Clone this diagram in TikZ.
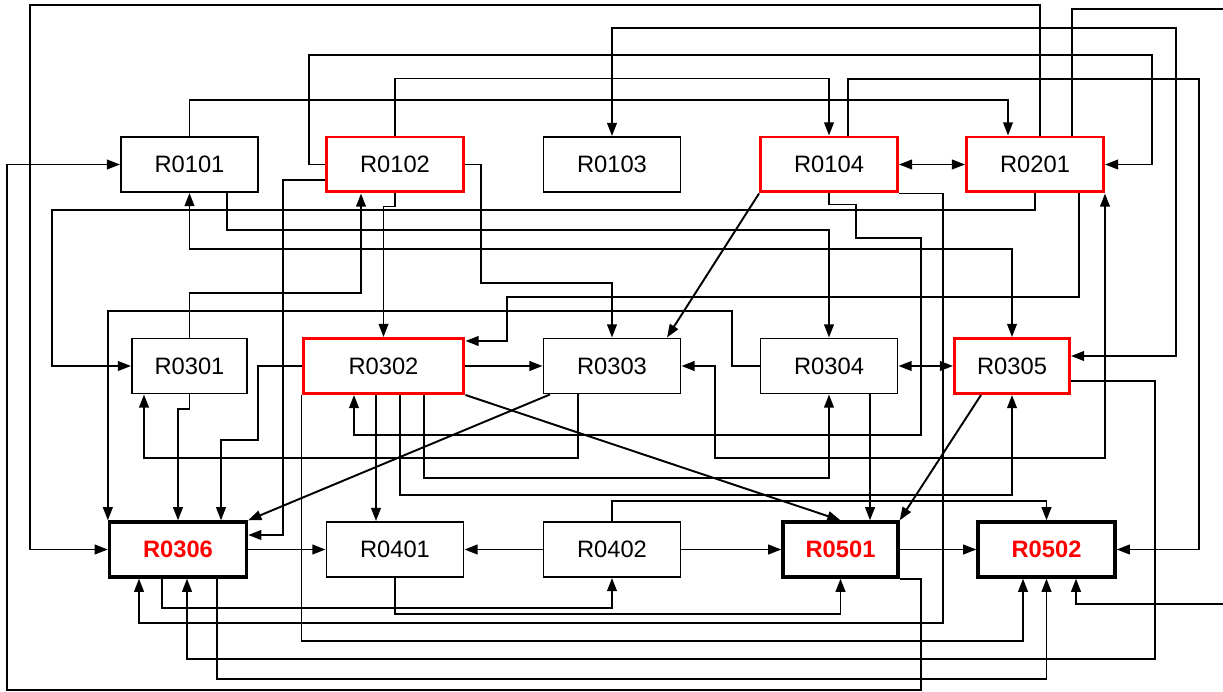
\documentclass[tikz,border=0pt]{standalone}
\usepackage{fontspec}
\setmainfont{Liberation Sans}
\usetikzlibrary{arrows.meta}

\tikzset{
    room/.style={draw, line width=1.1pt, fill=white, inner sep=0pt,
        minimum width=2.74cm, minimum height=1.1cm,
        font=\fontsize{13.5}{16}\selectfont},
    narrow/.style={minimum width=2.3cm},
    wide/.style={minimum width=3.22cm},
    redroom/.style={room, draw=red, line width=1.7pt},
    keyroom/.style={room, line width=1.9pt, text=red,
        font=\fontsize{13.5}{16}\selectfont\bfseries},
    link/.style={line width=1.1pt, -{Triangle[length=7.5pt,width=5.5pt]}},
    dlink/.style={line width=1.1pt,
        {Triangle[length=7.5pt,width=5.5pt]}-{Triangle[length=7.5pt,width=5.5pt]}}
}

\begin{document}
\begin{tikzpicture}[x=0.02cm, y={(0cm,-0.02cm)}]

\useasboundingbox (0,0) rectangle (1223,692);

% =============================================
% Row 1
% =============================================
\node[room] (R0101) at (189.5,164.5) {R0101};
\node[redroom] (R0102) at (395,164.5) {R0102};
\node[room] (R0103) at (612,164.5) {R0103};
\node[redroom] (R0104) at (829,164.5) {R0104};
\node[redroom] (R0201) at (1035,164.5) {R0201};

% =============================================
% Row 2
% =============================================
\node[room, narrow] (R0301) at (189.5,366) {R0301};
\node[redroom, wide] (R0302) at (383.5,366) {R0302};
\node[room] (R0303) at (612,366) {R0303};
\node[room] (R0304) at (829,366) {R0304};
\node[redroom, narrow] (R0305) at (1012,366) {R0305};

% =============================================
% Row 3
% =============================================
\node[keyroom] (R0306) at (178,549.5) {R0306};
\node[room] (R0401) at (395,549.5) {R0401};
\node[room] (R0402) at (612,549.5) {R0402};
\node[keyroom, narrow] (R0501) at (840.5,549.5) {R0501};
\node[keyroom] (R0502) at (1046.5,549.5) {R0502};

% =============================================
% Long routes over the top and round the border
% =============================================
\draw[link] (R0201.north -| 1040,0) |- (30,5) |- (R0306.west);
\draw[link] (R0201.north -| 1072,0) |- (1240,9) |- (1076,604)
    -- (R0502.south -| 1076,0);
\draw[dlink] (R0103.north) |- (1176,28) |- (R0305.east |- 0,356);
\draw[link] (R0102.west) -| (309,55) -- (1152,55) |- (R0201.east);
\draw[link] (R0102.north) -- ++(0,-57) -| (R0104.north);
\draw[link] (R0104.north -| 848,0) |- (1199,79) |- (R0502.east);
\draw[link] (R0101.north) |- (1008,100) -- (R0201.north -| 1008,0);
\draw[link] (R0501.south east) -| (921,690) -- (7,690) |- (R0101.west);

% =============================================
% Between row 1 and row 2
% =============================================
\draw[dlink] (R0104.east) -- (R0201.west);
\draw[link] (R0201.south) |- (52,210) |- (R0301.west);
\draw[link] (R0101.south -| 227,0) -- ++(0,37) -| (R0304.north);
\draw[dlink] (R0101.south) -- ++(0,56) -| (R0305.north);
\draw[link] (R0104.south) -- ++(0,11) -| (856,238) -| (921,435)
    -| (R0302.south -| 354,0);
\draw[link] (R0104.south east) -| (943,623) -| (R0306.south -| 139,0);
\draw[link] (R0102.west |- 0,180) -| (283,535) -- (R0306.east |- 0,535);
\draw[link] (R0102.south) -- ++(0,13) -| (R0302.north);
\draw[link] (R0301.north) |- (361,293) -- (R0102.south -| 361,0);
\draw[link] (R0102.east) -| (481,283) -| (R0303.north);
\draw[link] (R0201.south -| 1079,0) |- (507,297) |- (R0302.east |- 0,341);
\draw[link] (R0304.west) -| (732,311) -| (R0306.north west);
\draw[link] (R0104.south west) -- (R0303.north east -| 667,0);

% =============================================
% Row 2 and below
% =============================================
\draw[link] (R0302.east) -- (R0303.west);
\draw[dlink] (R0201.south east) |- (715,458) |- (R0303.east);
\draw[dlink] (R0304.east) -- (R0305.west);
\draw[link] (R0301.south) -- ++(0,15) -| (R0306.north);
\draw[link] (R0302.west) -| (258,440) -| (R0306.north -| 221,0);
\draw[link] (R0303.south -| 578,0) |- (144,458) -- (R0301.south -| 144,0);
\draw[link] (R0303.south west -| 550,0) -- (R0306.north east);
\draw[link] (R0302.south -| 376,0) -- (R0401.north -| 376,0);
\draw[link] (R0302.south -| 424,0) -- ++(0,83) -| (R0304.south);
\draw[link] (R0302.south -| 400,0) -- ++(0,100) -| (R0305.south);
\draw[link] (R0302.south east) -- (R0501.north);
\draw[link] (R0302.south west) |- (1023,641) -- (R0502.south -| 1023,0);
\draw[link] (R0304.south -| 870,0) -- (R0501.north -| 870,0);
\draw[link] (R0305.south west -| 981,0) -- (R0501.north east);
\draw[link] (R0305.east |- 0,381) -| (1155,659) -| (R0306.south -| 187,0);

% =============================================
% Row 3
% =============================================
\draw[link] (R0306.east) -- (R0401.west);
\draw[link] (R0402.west) -- (R0401.east);
\draw[link] (R0402.east) -- (R0501.west);
\draw[link] (R0501.east) -- (R0502.west);
\draw[link] (R0402.north) -- ++(0,-20) -| (R0502.north);
\draw[link] (R0306.south -| 162,0) -- ++(0,29) -| (R0402.south);
\draw[link] (R0401.south) -- ++(0,36) -| (R0501.south);
\draw[link] (R0306.south -| 217,0) -- ++(0,100) -| (R0502.south);

\end{tikzpicture}
\end{document}
